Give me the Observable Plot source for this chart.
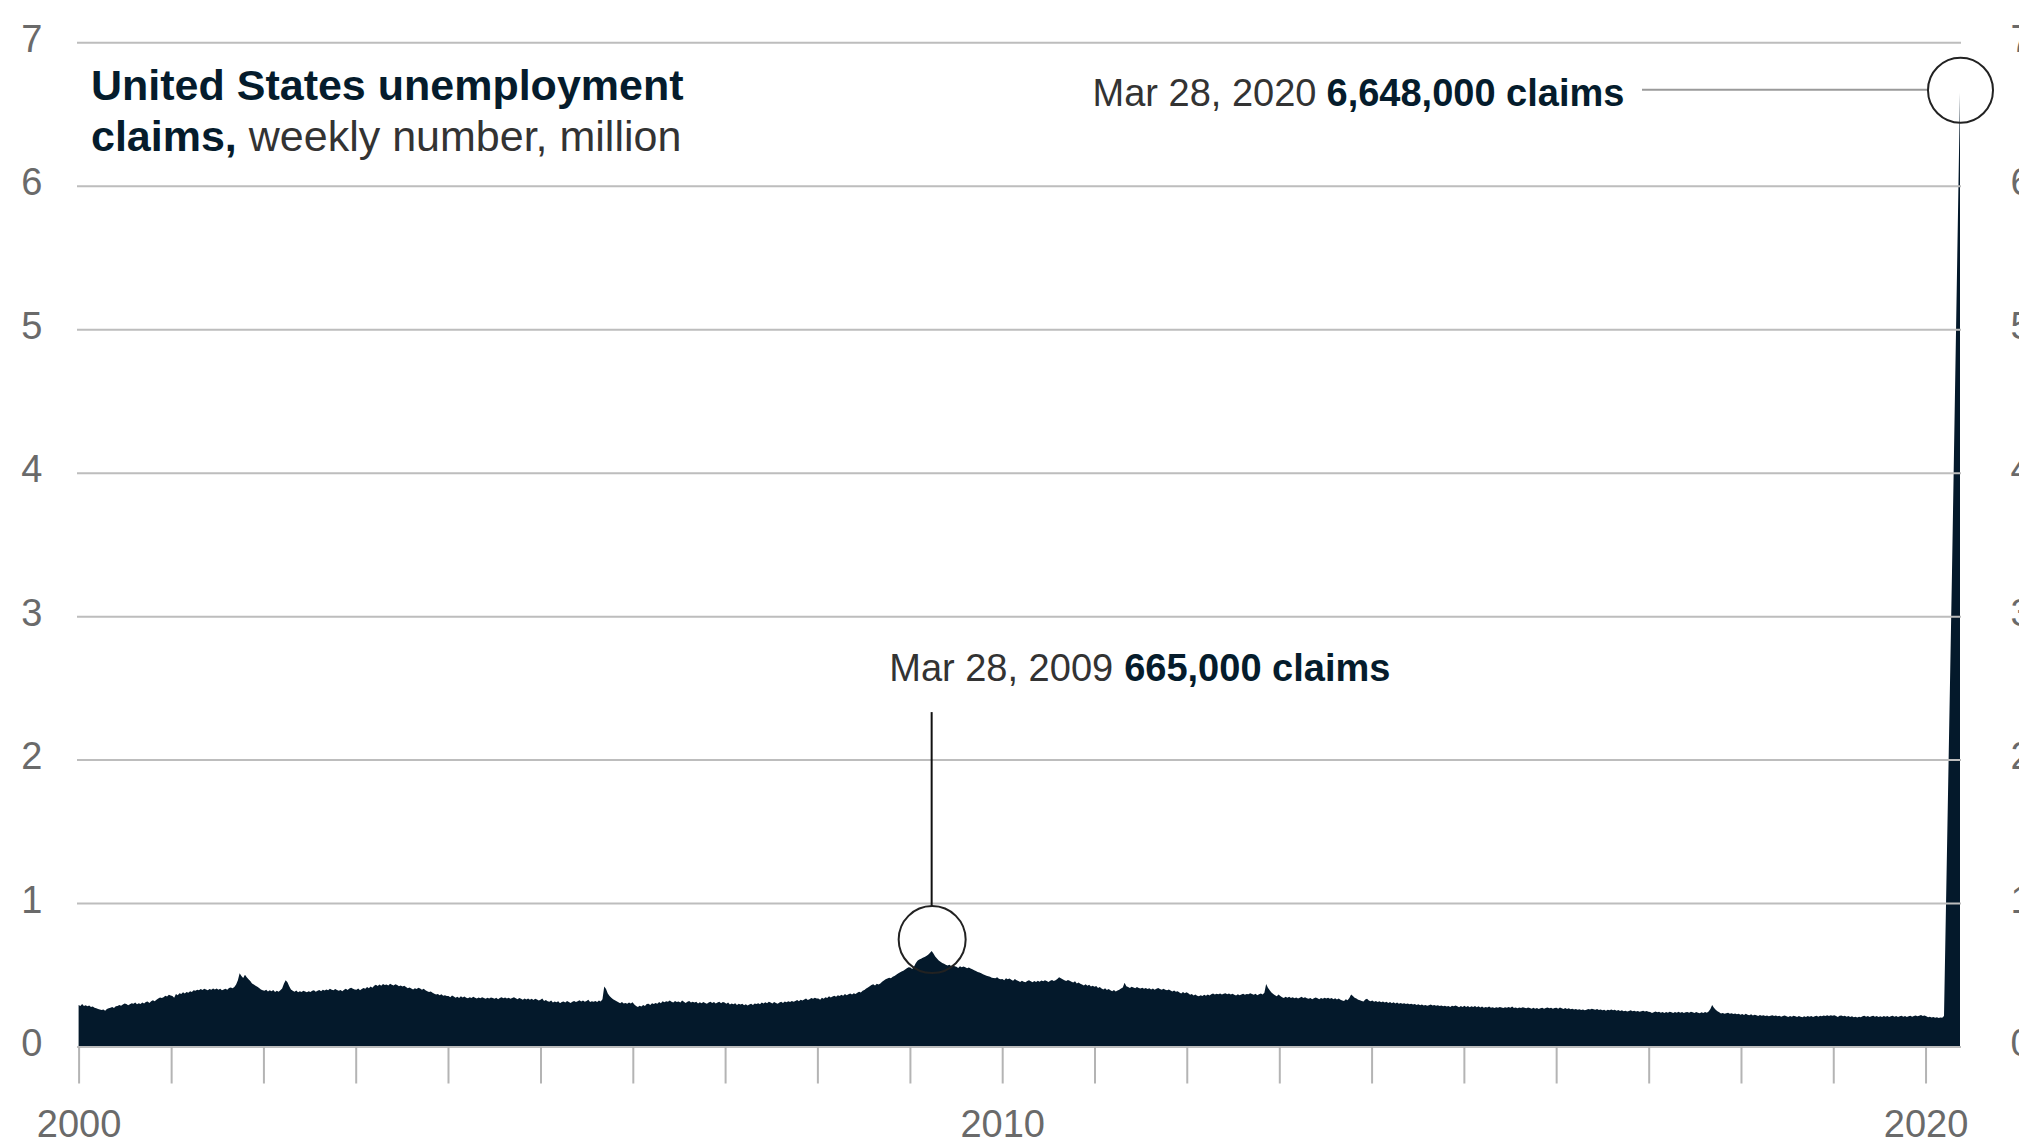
<!DOCTYPE html>
<html><head><meta charset="utf-8">
<script src="https://cdn.jsdelivr.net/npm/d3@7"></script>
<script src="https://cdn.jsdelivr.net/npm/@observablehq/plot@0.6"></script>
<style>
html,body{margin:0;padding:0;background:#fff;}
#wrap{position:relative;width:2019px;height:1142px;overflow:hidden;font-family:'Liberation Sans',Arial,sans-serif;}
#title{position:absolute;left:91px;top:60px;font-size:43px;line-height:51px;color:#333;white-space:nowrap;}
#title b{color:#051c2c;font-weight:700;}
</style></head><body>
<div id="wrap"><div id="chart"></div><div id="title"><b>United States unemployment</b><br><b>claims,</b> weekly number, million</div></div>
<script>
// Weekly initial unemployment claims, thousands (weeks ending Saturday)
const w2000 = [290,283,296,282,287, 280,286,276,279, 270,266,262,258, 254,258,250,262,266, 270,276,268,281, 282,290,284,292, 300,296,288,294,302, 298,306,294,302, 296,306,300,310,314, 304,316,322,316, 326,334,342,338, 344,354,348,360,356];
const w2001 = [352,340,366,358, 372,366,378,370, 380,374,386,380,392, 388,396,392,400, 394,402,398,392, 400,396,404,398,404, 396,402,392,398, 402,396,408,412, 406,414,432,462,510, 492,478,500,482, 468,456,440,432, 424,416,408,398,392];
const w2002 = [388,396,384,392, 386,394,380,388, 382,392,404,438,462, 448,420,398,388, 382,390,378,386, 380,388,384,378,386, 380,388,392,382, 388,394,386,396,390, 398,392,402,396, 392,400,394,388, 394,386,396,402,394, 404,410,402,398];
const w2003 = [396,404,392,400, 408,402,414,406, 418,410,424,430,422, 432,424,436,428, 432,426,438,430,426, 434,428,420,426, 418,424,414,406, 412,404,398,406,400, 410,404,396,402, 392,386,380,384, 374,368,362,366,358, 364,354,358,352];
const w2004 = [352,344,356,348,340, 346,338,350,342, 348,340,336,344, 338,346,340,334, 342,336,344,338,332, 340,334,342,338, 332,340,330,338,344, 336,342,334,340, 332,338,344,336, 330,338,332,326,334, 328,334,326,332, 324,332,328,320];
const w2005 = [326,334,318,324,316, 312,320,306,314, 308,316,302,310, 314,306,318,310,304, 312,318,310,316, 322,314,320,312, 318,326,310,316,312, 318,310,320,314, 330,418,400,370, 352,340,330,322,316, 308,302,310,300, 304,298,306,300,308];
const w2006 = [292,282,276,284, 278,290,282,296, 298,290,302,296, 304,298,310,302,316, 308,316,312,320, 312,306,318,310, 314,306,320,312,304, 312,318,306,312, 306,312,300,308,302, 310,304,298,306, 312,304,310,300, 306,312,302,310,306];
const w2007 = [298,306,292,300, 294,302,290,298, 292,298,288,294,286, 292,298,290,300, 296,302,294,306, 300,308,302,312,306, 300,310,304,298, 306,312,304,314, 308,316,310,318,312, 318,324,316,326, 320,328,334,324, 330,338,332,340,334];
const w2008 = [334,326,340,332, 344,338,350,342, 348,354,346,358,352, 360,354,366,358, 364,370,362,372,366, 374,382,376,388, 394,404,412,420, 428,434,426,438,432, 440,452,460,468, 474,480,476,486, 492,500,508,516,522, 528,536,546,552];
const w2009 = [550,540,556,580,598, 606,612,618,624, 630,640,652,665, 648,628,614,600, 590,582,576,570,564, 570,562,568,560, 556,548,560,552, 558,552,546,550,544, 538,532,526,520, 516,510,504,498,494, 490,486,480,478, 476,482,472,468];
const w2010 = [470,462,476,468,474, 466,458,470,462, 456,450,458,452, 448,456,462,454, 448,456,450,458,452, 460,454,462,456, 450,458,464,456,462, 470,482,476,468, 462,456,464,458, 452,446,454,440,446, 438,432,426,434, 424,430,418,424];
const w2011 = [416,422,408,414,404, 398,406,394,400, 392,386,394,384, 390,396,404,412,444, 420,414,408,416, 412,406,414,408, 404,410,402,408,400, 406,398,404,396, 402,408,400,396, 402,396,392,398,390, 384,390,382,386, 376,370,380,372,378];
const w2012 = [372,360,366,356, 362,354,350,358, 352,360,354,362,356, 364,370,362,368, 364,370,362,368, 372,364,370,362,368, 360,356,364,358, 362,368,360,366, 364,372,366,360,368, 358,364,370,362, 374,436,410,392, 376,366,358,350,362];
const w2013 = [352,344,338,346, 340,346,338,344, 336,342,334,340,346, 338,344,336,332, 338,330,336,342, 336,330,338,332,340, 334,340,332,338, 330,336,328,334,326, 320,318,330,322, 338,362,352,340, 334,326,322,318,314, 328,332,320,316];
const w2014 = [320,312,318,310, 316,308,314,306, 312,304,310,302,308, 300,306,298,304, 298,302,296,300,294, 298,292,296,290, 294,288,292,286, 290,284,288,292,286, 290,284,288,282, 286,280,284,278, 282,276,284,280,286, 280,274,282,276];
const w2015 = [284,276,282,274,280, 276,282,274,280, 272,278,270,276, 272,278,270,274, 268,274,270,276,272, 268,274,270,276, 270,278,268,272, 266,272,268,274,270, 266,272,268,264, 270,264,268,262,266, 270,264,268,272, 266,270,264,268];
const w2016 = [270,264,272,266,262, 268,262,266,260, 264,258,262,256, 260,254,258,252,256, 262,258,264,260, 256,262,254,258, 252,256,250,256,252, 258,252,256,250, 254,248,252,246, 250,244,248,252,246, 250,244,248,242, 246,250,244,248,242];
const w2017 = [240,234,238,244, 238,242,236,240, 234,240,236,242, 238,234,240,236,242, 236,240,234,238, 240,236,242,238, 234,240,236,232,238, 234,240,236,244, 262,290,270,256,246, 238,230,234,228, 232,236,228,232, 226,230,224,228,222];
const w2018 = [226,220,228,222, 218,224,216,222, 218,212,220,214,218, 212,216,210,214, 218,212,216,210, 214,208,212,216,210, 206,212,208,214, 210,206,212,208, 204,210,206,212,208, 212,206,210,214, 208,214,210,216, 212,218,212,218,214];
const w2019 = [218,212,206,214, 216,210,214,208, 212,206,210,204,208, 202,208,204,210, 214,208,212,206, 210,214,208,212,206, 210,206,212,208, 212,206,210,214,208, 212,206,210,214, 208,212,206,210, 214,208,212,216,210, 214,220,212,216];
const w2020 = [210,204,208,202, 206,200,204,198,202, 200,212,3307,6648];

const seriesByYear = [
  [2000, w2000], [2001, w2001], [2002, w2002], [2003, w2003], [2004, w2004],
  [2005, w2005], [2006, w2006], [2007, w2007], [2008, w2008], [2009, w2009],
  [2010, w2010], [2011, w2011], [2012, w2012], [2013, w2013], [2014, w2014],
  [2015, w2015], [2016, w2016], [2017, w2017], [2018, w2018], [2019, w2019],
  [2020, w2020]
];

// Axis ticks and labels
const yTicks = [0, 1, 2, 3, 4, 5, 6, 7];
const xTickYears = d3.range(2000, 2021);
const xLabelYears = [2000, 2010, 2020];

// Annotations
const annDates = ["Mar 28, 2009", "Mar 28, 2020"];
const annLabels = ["Mar 28, 2009", "Mar 28, 2020"];

const data = seriesByYear.flatMap(([yr, vals]) => {
  const sats = d3.utcSaturday.range(new Date(Date.UTC(yr, 0, 1)), new Date(Date.UTC(yr + 1, 0, 1)));
  return vals.map((v, i) => ({date: sats[i], value: v / 1000})).filter(d => d.date);
});

const parseAnn = d3.utcParse("%b %d, %Y");
const peaks = annDates.map(s => data.find(d => +d.date === +parseAnn(s)));
const p09 = peaks[0], p20 = peaks[1];
const fmtClaims = d => d3.format(",")(Math.round(d.value * 1e6)) + " claims";

const xTicks = xTickYears.map(y => new Date(Date.UTC(y, 0, 1)));
const lastDate = data[data.length - 1].date;
const prevDate = d3.utcDay.offset(lastDate, -14);

const FONT = "'Liberation Sans', Arial, sans-serif";

const connectors = (index, scales) => {
  const g = d3.create("svg:g");
  const x09 = scales.x(p09.date), y09 = scales.y(p09.value);
  g.append("line").attr("x1", x09).attr("x2", x09).attr("y1", y09 - 239).attr("y2", y09 - 45.5)
    .attr("stroke", "#111").attr("stroke-width", 2);
  const x20 = scales.x(p20.date), y20 = scales.y(p20.value);
  g.append("line").attr("x1", x20 - 318).attr("x2", x20 - 33).attr("y1", y20 - 3).attr("y2", y20 - 3)
    .attr("stroke", "#9a9a9a").attr("stroke-width", 2);
  return g.node();
};

const chart = Plot.plot({
  width: 2019,
  height: 1142,
  marginLeft: 77,
  marginRight: 58,
  marginTop: 42.3,
  marginBottom: 95.5,
  style: {fontFamily: FONT, fontSize: "38px", background: "#fff"},
  x: {type: "utc", domain: [data[0].date, prevDate, lastDate], range: [78.6, 1944, 1960], label: null},
  y: {domain: [0, 7], label: null},
  marks: [
    Plot.areaY(data, {x: "date", y: "value", fill: "#04192b"}),
    Plot.gridY(yTicks, {stroke: "#bdbdbd", strokeOpacity: 1, strokeWidth: 2}),
    Plot.axisY(yTicks, {anchor: "left", tickSize: 0, tickPadding: 35, fill: "#6a6a6a", dy: -3, label: null, tickFormat: d => String(d)}),
    Plot.axisY(yTicks, {anchor: "right", tickSize: 0, tickPadding: 49, fill: "#6a6a6a", dy: -3, label: null, tickFormat: d => String(d)}),
    Plot.axisX(xTicks, {anchor: "bottom", tickSize: 37, tickPadding: 26, stroke: "#b4b4b4", strokeWidth: 2, fill: "#6a6a6a", label: null,
      tickFormat: d => xLabelYears.includes(d.getUTCFullYear()) ? String(d.getUTCFullYear()) : ""}),
    Plot.dot([p09], {x: "date", y: "value", r: 33.5, dy: -12, stroke: "#222", strokeWidth: 2, fill: "none"}),
    Plot.dot([p20], {x: "date", y: "value", r: 32.5, dy: -3, stroke: "#222", strokeWidth: 2, fill: "none"}),
    connectors,
    Plot.text([p09], {x: "date", y: "value", text: () => annLabels[0], textAnchor: "end", dx: 181, dy: -283, fill: "#333", fontSize: 38}),
    Plot.text([p09], {x: "date", y: "value", text: fmtClaims, textAnchor: "start", dx: 192, dy: -283, fill: "#051c2c", fontWeight: "bold", fontSize: 38}),
    Plot.text([p20], {x: "date", y: "value", text: () => annLabels[1], textAnchor: "end", dx: -644, dy: 1, fill: "#333", fontSize: 38}),
    Plot.text([p20], {x: "date", y: "value", text: fmtClaims, textAnchor: "start", dx: -634, dy: 1, fill: "#051c2c", fontWeight: "bold", fontSize: 38})
  ]
});
document.getElementById("chart").appendChild(chart);
</script></body></html>
